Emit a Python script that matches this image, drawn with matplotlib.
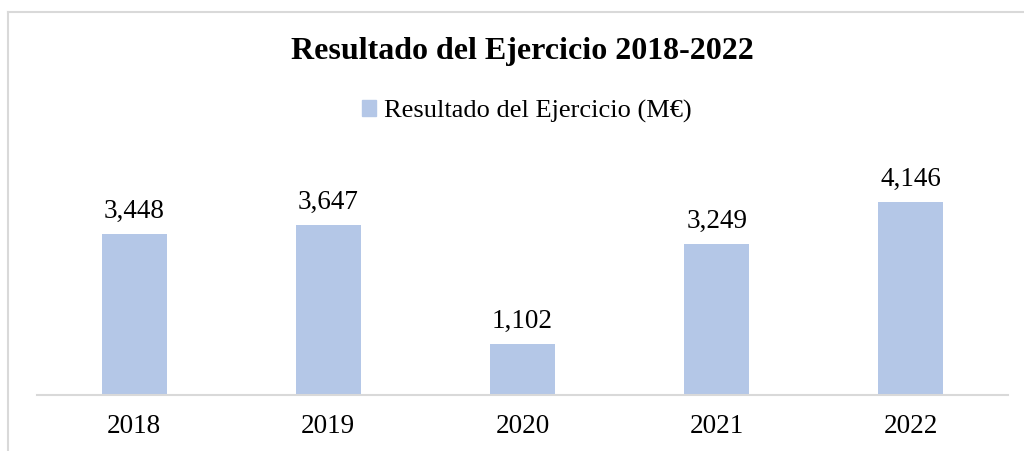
import matplotlib
matplotlib.use("Agg")
import matplotlib.pyplot as plt
from matplotlib.lines import Line2D
from matplotlib.patches import Patch

years = ["2018", "2019", "2020", "2021", "2022"]
resultado = [3448, 3647, 1102, 3249, 4146]
serie = "Resultado del Ejercicio (M€)"
titulo = "Resultado del Ejercicio 2018-2022"

color_barra = "#B4C7E7"

plt.rcParams['font.family'] = ['Liberation Serif', 'DejaVu Serif']

fig = plt.figure(figsize=(10.24, 4.51), dpi=100)
W, H = 1024, 451
ax = fig.add_axes([37 / W, 1 - 395 / H, (1008 - 37) / W, (395 - 162) / H])

x = list(range(len(years)))
bars = ax.bar(x, resultado, width=0.335, color=color_barra, zorder=2)
for b, v in zip(bars, resultado):
    ax.annotate(f"{v:,}", (b.get_x() + b.get_width() / 2, v),
                xytext=(0, 11.5), textcoords="offset points",
                ha="center", va="baseline", fontsize=19.5)

ax.set_xlim(-0.5, len(years) - 0.5)
ax.set_ylim(0, 5000)
ax.set_xticks(x)
ax.set_xticklabels(years, fontsize=19.5)
ax.tick_params(axis="x", length=0, pad=14)
ax.set_yticks([])
for s in ["top", "right", "left"]:
    ax.spines[s].set_visible(False)
ax.spines["bottom"].set_color("#D9D9D9")
ax.spines["bottom"].set_linewidth(1.5)

fig.text(522 / W, 1 - 51 / H, titulo, ha="center", va="center",
         fontsize=23, fontweight="bold")

fig.legend(handles=[Patch(color=color_barra, label=serie)],
           loc="center", bbox_to_anchor=(527 / W, 1 - 111 / H), frameon=False,
           fontsize=19, handlelength=0.55, handleheight=0.55, handletextpad=0.3)

# marco del gráfico
fig.add_artist(Line2D([8 / W, 1], [1 - 12 / H, 1 - 12 / H], color="#D9D9D9", lw=1.5))
fig.add_artist(Line2D([8 / W, 8 / W], [0, 1 - 12 / H], color="#D9D9D9", lw=1.5))

fig.savefig("out.png", dpi=100, facecolor="white")
